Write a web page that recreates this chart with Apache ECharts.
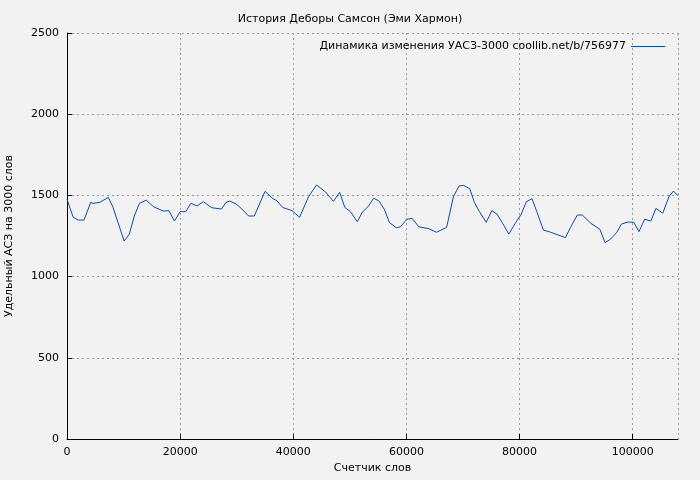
<!DOCTYPE html>
<html>
<head>
<meta charset="utf-8">
<script src="https://cdn.jsdelivr.net/npm/echarts@6/dist/echarts.min.js"></script>
<style>html,body{margin:0;padding:0;background:#f2f2f2;}#main{width:700px;height:480px;}</style>
</head>
<body>
<div id="main"></div>
<script>
var words = [0,1100,2000,3000,4200,4600,5800,7300,8100,10100,11000,11900,12800,14000,15300,17000,18000,19000,20000,21000,21900,23000,24100,25600,27300,28100,28800,29900,31100,32100,33100,35000,36400,37100,38100,39800,41100,42700,44100,45700,47100,48200,49100,50100,51300,52200,53300,54200,55100,56100,57000,58200,58900,60100,61000,62200,63900,65300,67100,68300,69300,70100,71200,72000,72900,74100,75100,76000,76900,78100,79300,80300,81200,82200,83100,84200,85500,88100,89000,90200,91100,92600,94200,95100,96100,97200,98000,99200,100200,101100,102100,103200,104100,105300,106400,107200,108000];
var values = [1476,1365,1348,1348,1457,1451,1457,1488,1430,1219,1260,1373,1451,1471,1430,1404,1406,1342,1400,1400,1451,1435,1461,1424,1416,1457,1465,1447,1410,1373,1373,1525,1480,1467,1426,1406,1365,1492,1564,1521,1463,1519,1426,1400,1338,1396,1435,1482,1467,1414,1332,1301,1306,1353,1359,1306,1296,1273,1303,1492,1558,1562,1541,1457,1400,1334,1406,1385,1334,1262,1332,1385,1461,1480,1394,1287,1273,1240,1303,1379,1379,1328,1291,1209,1231,1273,1324,1336,1334,1277,1353,1342,1420,1390,1492,1527,1498];
var seriesName = 'Динамика изменения УАСЗ-3000 coollib.net/b/756977';

var chart = echarts.init(document.getElementById('main'));
var font = 'DejaVu Sans';
var grid = {show: true, lineStyle: {color: '#999', type: [2, 3], width: 1}};
var plain = function (v) { return String(v); };
chart.setOption({
    backgroundColor: '#f2f2f2',
    animation: false,
    textStyle: {fontFamily: font},
    title: {
        text: 'История Деборы Самсон (Эми Хармон)',
        left: 'center', top: 9,
        textStyle: {fontSize: 11, fontWeight: 'normal', color: '#000', fontFamily: font}
    },
    legend: {
        data: [seriesName],
        right: 30, top: 36, align: 'right',
        itemWidth: 34, itemHeight: 1, icon: 'rect',
        textStyle: {fontSize: 11, color: '#000', fontFamily: font}
    },
    grid: {left: 67, right: 22, top: 33, bottom: 41, containLabel: false, outerBoundsMode: 'none'},
    xAxis: {
        type: 'value', min: 0, max: 108000, interval: 20000,
        name: 'Счетчик слов', nameLocation: 'middle', nameGap: 22,
        nameTextStyle: {fontSize: 11, color: '#000'},
        axisLine: {lineStyle: {color: '#000'}},
        axisTick: {inside: true, lineStyle: {color: '#000'}},
        axisLabel: {fontSize: 11, color: '#000', showMaxLabel: false, formatter: plain},
        splitLine: grid
    },
    yAxis: {
        type: 'value', min: 0, max: 2500, interval: 500,
        name: 'Удельный АСЗ на 3000 слов', nameLocation: 'middle', nameGap: 52,
        nameTextStyle: {fontSize: 11, color: '#000'},
        axisLine: {show: true, lineStyle: {color: '#000'}},
        axisTick: {show: true, inside: true, lineStyle: {color: '#000'}},
        axisLabel: {fontSize: 11, color: '#000', formatter: plain},
        splitLine: grid
    },
    series: [{
        name: seriesName,
        type: 'line',
        data: words.map(function (w, i) { return [w, values[i]]; }),
        symbol: 'none',
        lineStyle: {color: '#0a4bbf', width: 1},
        itemStyle: {color: '#0a4bbf'}
    }]
});
</script>
</body>
</html>
